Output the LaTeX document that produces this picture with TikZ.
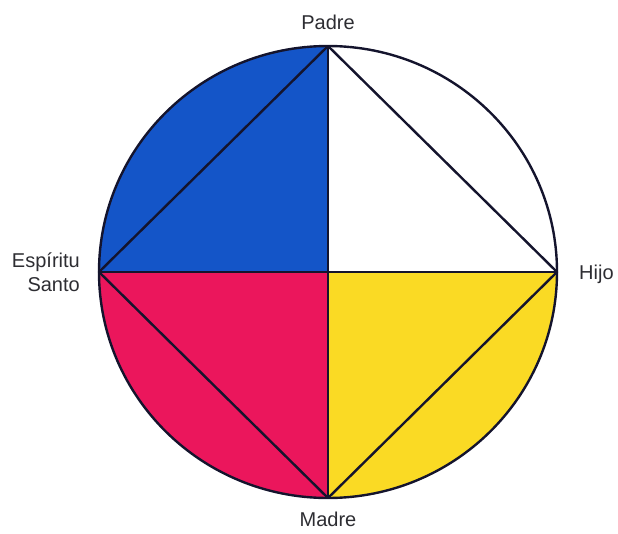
\documentclass[tikz,border=0pt]{standalone}
\usepackage{fontspec}
\setmainfont{Liberation Sans}
\usepackage{tikz}
\usetikzlibrary{positioning}

\definecolor{padreblue}{RGB}{20,85,200}
\definecolor{espiritured}{RGB}{235,22,92}
\definecolor{madreyellow}{RGB}{250,218,36}
\definecolor{linenavy}{RGB}{20,20,45}
\definecolor{labelgray}{RGB}{45,45,50}

\begin{document}
\begin{tikzpicture}[
		x=1pt,y=-1pt,
		l/.style={inner sep=0pt,text=labelgray,font=\fontsize{20}{24}\selectfont},
		e/.style={draw=linenavy,line width=2.4pt,line join=round},
		rim/.style={x radius=229,y radius=226}
		]
		
		\useasboundingbox (0,0) rectangle (618,533);
		
		\coordinate (centre) at (328,272);
		\coordinate (top) at (328,46);
		\coordinate (bottom) at (328,498);
		\coordinate (left) at (99,272);
		\coordinate (right) at (557,272);
		
		% quadrant colours
		\begin{scope}
			\clip (centre) ellipse [rim];
			\fill [padreblue] (centre) rectangle (90,40);
			\fill [espiritured] (centre) rectangle (90,505);
			\fill [madreyellow] (centre) rectangle (565,505);
			\fill [white] (centre) rectangle (565,40);
		\end{scope}
		
		\path [e] (centre) ellipse [rim];
		\path [e] (left) -- (right);
		\path [e] (top) -- (bottom);
		\path [e] (top) -- (right) -- (bottom) -- (left) -- cycle;
		
		\node [l,above=16pt of top] (padre) {Padre};
		\node [l,right=22pt of right,yshift=-2pt] (hijo) {Hijo};
		\node [l,below=14pt of bottom] (madre) {Madre};
		\node [l,align=right,left=19pt of left] (espiritu) {Espíritu\\Santo};
		
	\end{tikzpicture}
\end{document}
